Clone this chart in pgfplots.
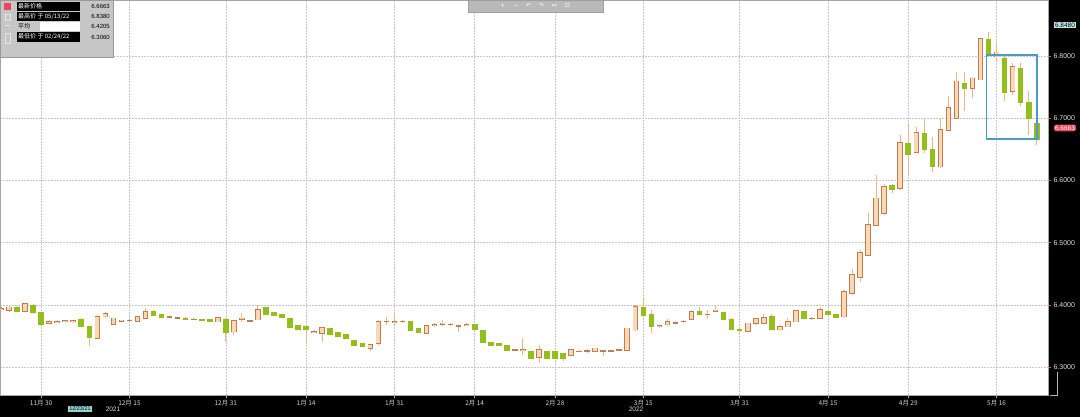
\documentclass[border=0pt]{standalone}
\usepackage{pgfplots}
\pgfplotsset{compat=1.18}
\usepackage{pgfplotstable}
\usepackage{fontspec}
\setmainfont{Liberation Sans}
\newfontfamily\cjk{Noto Sans CJK SC}
\newfontfamily\dejavu{DejaVu Sans}
\definecolor{upfill}{HTML}{FBD8B4}
\definecolor{upedge}{HTML}{C07E50}
\definecolor{wick}{HTML}{F0B488}
\definecolor{dnfill}{HTML}{93BE1C}
\definecolor{gridc}{HTML}{C8C8C8}
\definecolor{boxblue}{HTML}{4A9CC8}
\definecolor{lastred}{HTML}{E8485A}
\definecolor{tickcyan}{HTML}{BFE8EC}

\pgfplotstableread{
d o h l c
0 6.393 6.396 6.391 6.394
1 6.391 6.398 6.389 6.396
2 6.396 6.398 6.389 6.390
3 6.390 6.402 6.388 6.401
4 6.399 6.401 6.386 6.387
5 6.387 6.389 6.366 6.368
6 6.371 6.375 6.369 6.372
7 6.372 6.375 6.370 6.373
8 6.373 6.376 6.371 6.374
9 6.373 6.376 6.371 6.374
10 6.376 6.378 6.364 6.365
11 6.365 6.366 6.333 6.347
12 6.347 6.384 6.345 6.381
13 6.381 6.389 6.379 6.385
14 6.369 6.379 6.367 6.378
15 6.374 6.376 6.372 6.375
16 6.375 6.377 6.373 6.375
17 6.374 6.382 6.373 6.381
18 6.379 6.395 6.378 6.389
19 6.389 6.391 6.382 6.383
20 6.385 6.386 6.379 6.380
21 6.380 6.382 6.379 6.380
22 6.379 6.380 6.377 6.379
23 6.378 6.380 6.377 6.377
24 6.376 6.378 6.375 6.376
25 6.376 6.377 6.374 6.375
26 6.376 6.377 6.372 6.373
27 6.373 6.380 6.372 6.379
28 6.376 6.378 6.341 6.355
29 6.357 6.375 6.352 6.374
30 6.377 6.387 6.373 6.378
31 6.374 6.376 6.372 6.374
32 6.376 6.400 6.375 6.392
33 6.395 6.396 6.383 6.384
34 6.388 6.389 6.382 6.383
35 6.384 6.385 6.378 6.379
36 6.378 6.379 6.363 6.364
37 6.367 6.368 6.359 6.360
38 6.365 6.366 6.341 6.360
39 6.356 6.359 6.354 6.357
40 6.355 6.365 6.341 6.363
41 6.362 6.363 6.351 6.352
42 6.355 6.356 6.348 6.349
43 6.352 6.353 6.345 6.346
44 6.343 6.344 6.334 6.335
45 6.338 6.339 6.332 6.333
46 6.330 6.336 6.325 6.335
47 6.338 6.376 6.336 6.373
48 6.373 6.381 6.368 6.373
49 6.372 6.386 6.368 6.373
50 6.373 6.375 6.371 6.373
51 6.373 6.374 6.358 6.359
52 6.362 6.363 6.354 6.355
53 6.354 6.367 6.353 6.366
54 6.367 6.370 6.365 6.368
55 6.369 6.375 6.366 6.370
56 6.368 6.370 6.366 6.368
57 6.366 6.368 6.357 6.366
58 6.367 6.370 6.366 6.368
59 6.368 6.369 6.359 6.360
60 6.358 6.359 6.338 6.339
61 6.339 6.340 6.334 6.335
62 6.338 6.339 6.333 6.334
63 6.334 6.335 6.325 6.326
64 6.327 6.329 6.325 6.327
65 6.327 6.346 6.319 6.328
66 6.325 6.326 6.313 6.314
67 6.316 6.336 6.306 6.327
68 6.325 6.326 6.313 6.314
69 6.325 6.326 6.313 6.314
70 6.322 6.323 6.309 6.314
71 6.319 6.328 6.318 6.327
72 6.325 6.327 6.324 6.325
73 6.326 6.329 6.323 6.326
74 6.325 6.331 6.324 6.330
75 6.326 6.328 6.317 6.326
76 6.326 6.328 6.324 6.326
77 6.327 6.329 6.325 6.327
78 6.327 6.363 6.326 6.362
79 6.360 6.400 6.358 6.397
80 6.396 6.413 6.381 6.382
81 6.384 6.392 6.354 6.365
82 6.365 6.368 6.363 6.366
83 6.368 6.377 6.366 6.372
84 6.371 6.374 6.369 6.371
85 6.373 6.375 6.371 6.373
86 6.377 6.391 6.376 6.389
87 6.389 6.396 6.383 6.384
88 6.384 6.391 6.377 6.384
89 6.390 6.398 6.388 6.391
90 6.387 6.388 6.375 6.377
91 6.377 6.378 6.359 6.360
92 6.361 6.363 6.351 6.358
93 6.358 6.371 6.356 6.370
94 6.370 6.378 6.368 6.377
95 6.371 6.386 6.370 6.379
96 6.381 6.386 6.359 6.360
97 6.360 6.367 6.358 6.365
98 6.365 6.378 6.364 6.373
99 6.373 6.391 6.372 6.390
100 6.389 6.390 6.377 6.378
101 6.378 6.380 6.376 6.378
102 6.378 6.397 6.377 6.392
103 6.389 6.390 6.383 6.384
104 6.384 6.386 6.378 6.379
105 6.381 6.424 6.378 6.421
106 6.419 6.458 6.416 6.448
107 6.445 6.488 6.437 6.483
108 6.480 6.547 6.478 6.528
109 6.528 6.609 6.526 6.571
110 6.547 6.595 6.544 6.590
111 6.591 6.595 6.580 6.586
112 6.587 6.673 6.585 6.660
113 6.660 6.692 6.609 6.641
114 6.645 6.686 6.644 6.676
115 6.676 6.698 6.644 6.649
116 6.650 6.670 6.614 6.622
117 6.622 6.700 6.620 6.681
118 6.681 6.735 6.679 6.716
119 6.700 6.775 6.698 6.759
120 6.756 6.775 6.711 6.748
121 6.748 6.767 6.732 6.764
122 6.762 6.829 6.761 6.827
123 6.827 6.838 6.799 6.800
124 6.799 6.820 6.791 6.806
125 6.796 6.802 6.727 6.741
126 6.743 6.788 6.737 6.783
127 6.780 6.788 6.719 6.725
128 6.725 6.743 6.673 6.700
129 6.691 6.700 6.657 6.6663
}\candles

\begin{document}
\begin{tikzpicture}
\path[use as bounding box] (0pt,0pt) rectangle (1080pt,-417pt);
\fill[black] (0pt,0pt) rectangle (1080pt,-417pt);
\begin{axis}[
  at={(0pt,0pt)}, anchor=north west,
  scale only axis, width=1048pt, height=395pt,
  xmin=-0.125, xmax=130.4, ymin=6.255, ymax=6.890,
  axis background/.style={fill=white},
  axis line style={draw=gray!70},
  xtick={5,16,28,38,49,59,69,80,92,103,113,124},
  xticklabels={11月 30,12月 15,12月 31,1月 14,1月 31,2月 14,2月 28,3月 15,3月 31,4月 15,4月 29,5月 16},
  ytick={6.3,6.4,6.5,6.6,6.7,6.8},
  yticklabel pos=right,
  xtick pos=bottom,
  tick align=outside,
  major tick length=3pt,
  ytick style={draw=lastred, line width=0.6pt},
  xtick style={draw=gray!60, line width=0.5pt},
  grid=major,
  major grid style={draw=gridc, line width=0.6pt, dash pattern=on 2pt off 1pt},
  yticklabel style={text=gray!25, font=\fontsize{7}{8}\selectfont, xshift=-1pt},
  xticklabel style={text=gray!35, font=\cjk\fontsize{6.5}{7}\selectfont, yshift=1pt},
  /pgf/number format/.cd, fixed, fixed zerofill, precision=4, assume math mode=true,
]
% wicks
\addplot[draw=none, mark=none, forget plot,
  error bars/.cd, y dir=minus, y explicit, error mark=none,
  error bar style={draw=wick, line width=0.9pt}]
  table[x=d, y=h, y error minus expr=\thisrow{h}-\thisrow{l}] {\candles};
% up bodies: outline
\addplot[draw=none, mark=none, forget plot,
  restrict expr to domain={\thisrow{c}-\thisrow{o}}{0:1},
  error bars/.cd, y dir=minus, y explicit, error mark=none,
  error bar style={draw=upedge, line width=5.6pt}]
  table[x=d, y expr=\thisrow{c}+0.0012, y error minus expr=\thisrow{c}-\thisrow{o}+0.0024] {\candles};
% up bodies: fill
\addplot[draw=none, mark=none, forget plot,
  restrict expr to domain={\thisrow{c}-\thisrow{o}}{0:1},
  error bars/.cd, y dir=minus, y explicit, error mark=none,
  error bar style={draw=upfill, line width=3.8pt}]
  table[x=d, y=c, y error minus expr=\thisrow{c}-\thisrow{o}] {\candles};
% down bodies
\addplot[draw=none, mark=none, forget plot,
  restrict expr to domain={\thisrow{o}-\thisrow{c}}{0.00001:1},
  error bars/.cd, y dir=minus, y explicit, error mark=none,
  error bar style={draw=dnfill, line width=5.6pt}]
  table[x=d, y expr=\thisrow{o}+0.0008, y error minus expr=\thisrow{o}-\thisrow{c}+0.0016] {\candles};
\draw[boxblue, line width=1.3pt] (axis cs:122.75,6.8016) rectangle (axis cs:129.02,6.6663);
\end{axis}
% right side value tags
\node[fill=tickcyan, text=black, inner sep=0.8pt, font=\fontsize{6.5}{7}\selectfont] at (1065pt,-25pt) {6.8480};
\node[fill=lastred, text=white, inner sep=1pt, rounded corners=1.5pt, font=\fontsize{6.5}{7}\selectfont] at (1065pt,-128pt) {6.6663};
\draw[gray!60, line width=0.5pt] (1057pt,-372pt) -- (1057pt,-395pt) -- (1050pt,-395pt);
% bottom strip extras
\node[fill=tickcyan!80!teal, text=black, inner sep=0.8pt, font=\fontsize{5.5}{6}\selectfont] at (80pt,-409pt) {12/23/21};
\node[text=gray!30, font=\fontsize{6.5}{7}\selectfont] at (113pt,-409pt) {2021};
\node[text=gray!30, font=\fontsize{6.5}{7}\selectfont] at (636pt,-409pt) {2022};
% toolbar
\fill[gray!55] (468pt,0pt) rectangle (603pt,-12pt);
\draw[gray!75] (468pt,0pt) rectangle (603pt,-12pt);
\node[text=white, font=\dejavu\fontsize{6}{6}\selectfont] at (535pt,-6pt) {+ \quad − \quad ↶ \quad ↷ \quad ↔ \quad ⊡};
% legend box
\fill[gray!45] (0pt,0pt) rectangle (113pt,-57pt);
\draw[gray!80, line width=0.8pt] (0pt,0pt) rectangle (113pt,-57pt);
\fill[lastred] (4pt,-3pt) rectangle (11pt,-10pt);
\draw[gray!20] (5pt,-14pt) rectangle (10pt,-20pt);
\draw[gray!20] (5pt,-25pt) -- (10pt,-25pt);
\draw[gray!20] (5pt,-33pt) rectangle (10pt,-43pt);
\fill[black] (17pt,-2pt) rectangle (80pt,-11pt);
\fill[black] (17pt,-12pt) rectangle (80pt,-21pt);
\fill[black] (17pt,-32pt) rectangle (80pt,-42pt);
\fill[white] (40pt,-22pt) rectangle (80pt,-31pt);
\node[anchor=west, text=white, inner sep=0pt, font=\cjk\fontsize{6}{7}\selectfont] at (18pt,-6.5pt) {最新价格};
\node[anchor=west, text=white, inner sep=0pt, font=\cjk\fontsize{6}{7}\selectfont] at (18pt,-16.5pt) {最高价 于 05/13/22};
\node[anchor=west, text=black, inner sep=0pt, font=\cjk\fontsize{6}{7}\selectfont] at (18pt,-26.5pt) {平均};
\node[anchor=west, text=white, inner sep=0pt, font=\cjk\fontsize{6}{7}\selectfont] at (18pt,-37pt) {最低价 于 02/24/22};
\node[anchor=east, text=black, inner sep=0pt, font=\fontsize{6}{7}\selectfont] at (110pt,-6.5pt) {6.6663};
\node[anchor=east, text=black, inner sep=0pt, font=\fontsize{6}{7}\selectfont] at (110pt,-16.5pt) {6.8380};
\node[anchor=east, text=black, inner sep=0pt, font=\fontsize{6}{7}\selectfont] at (110pt,-26.5pt) {6.4205};
\node[anchor=east, text=black, inner sep=0pt, font=\fontsize{6}{7}\selectfont] at (110pt,-37pt) {6.3060};
\end{tikzpicture}
\end{document}
